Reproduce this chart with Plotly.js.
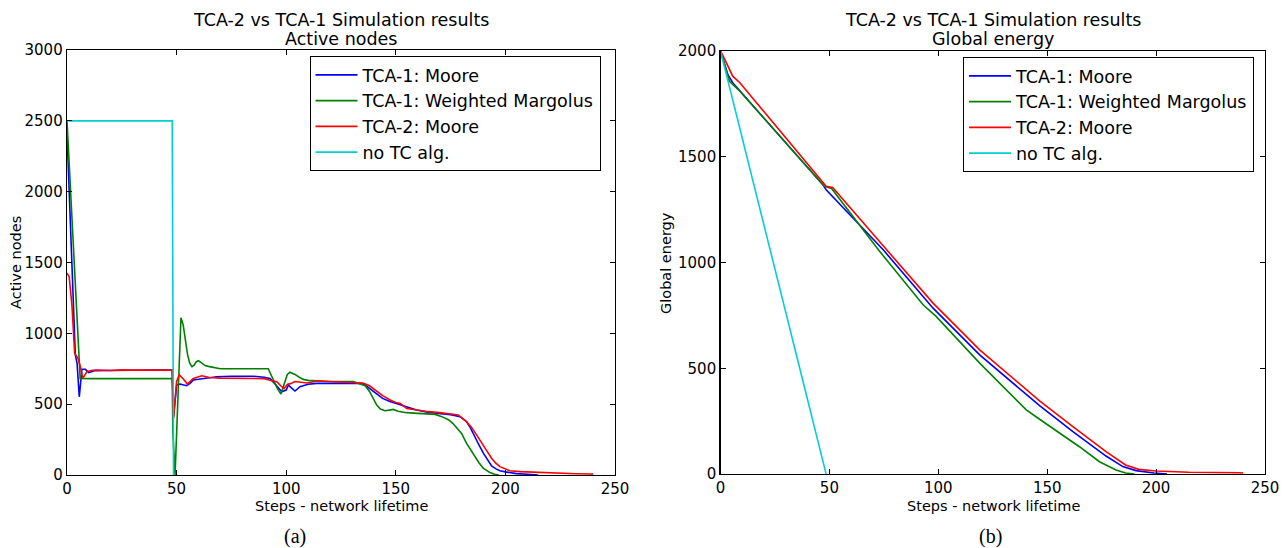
<!DOCTYPE html>
<html>
<head>
<meta charset="utf-8">
<script src="https://cdn.plot.ly/plotly-3.0.1.min.js"></script>
<style>html,body{margin:0;padding:0;background:#fff;}#chart{width:1287px;height:548px;}</style>
</head>
<body>
<div id="chart"></div>
<script>
// ---------- Data: (a) Active nodes ----------
const seriesNames = ["TCA-1: Moore", "TCA-1: Weighted Margolus", "TCA-2: Moore", "no TC alg."];
const xTicks = [0, 50, 100, 150, 200, 250];
const activeTicks = [0, 500, 1000, 1500, 2000, 2500, 3000];
const energyTicks = [0, 500, 1000, 1500, 2000];

const moore1StepsA = [0,1,2.3,3.8,4.6,5.6,6.8,8.4,9.9,12.9,20,30,40,48,48.6,50,50.8,52,54.5,56,57.6,60,64,68.3,75,80,85,90,92.6,95,98,100,101,102,104,106.3,110,114,120,130,133.7,136,138,141,144,147,150,155,159.5,165,170,175,179.3,182.3,184,186,188,190,192,193.7,195.5,197.5,200,202,205,210,215];
const moore1Active = [2414,1990,1425,847,788,552,746,746,723,737,738,742,741,741,410,630,642,640,630,645,670,676,684,694,697,698,697,690,682,640,588,600,635,620,593,623,640,647,647,647,647,635,612,580,541,520,506,480,459,442,434,426,412,376,335,270,210,153,100,64,45,30,22,16,10,5,0];

const margolusStepsA = [0,6,10,48,48.3,49.3,50.5,51.2,52,53,54,55,56,57,58,59,60,61,63,65,68.3,70,91.8,94,96,97.6,99,100.5,101.7,104,106,107.8,110,113.9,120,130.6,132,134,136,138,140,141.3,143,145,147,148.9,151,155,160,165,168,171,174,176,178,180,182.3,184,186,188,190,192,193,195,197];
const margolusActive = [2500,682,680,680,300,0,500,850,1110,1060,950,850,790,765,775,800,807,795,772,765,753,750,750,680,610,572,640,710,725,710,690,675,668,663,660,659,652,642,630,590,530,494,465,454,458,463,450,440,435,430,428,412,390,365,330,294,223,180,130,85,47,25,17,5,0];

const moore2StepsA = [0,1,2.3,3.5,5,6,7.2,8,9.1,11,13,20,25,30,40,48,48.6,50,51.2,53,54.9,56,57.6,61.5,65,70,80,90,92.6,95.7,97.5,99,100.6,102,104,107,109.5,114,120,130,135,138,141.3,144,147.4,150,152,155,158,161,165,170,174,178.5,182,184.6,187,189.2,191.5,193.7,195.5,197.5,200,202,206.7,215.8,225,232,238.6,240];
const moore2Active = [1425,1400,1188,859,824,770,682,700,730,738,741,738,742,740,740,740,400,660,706,680,642,660,682,700,688,684,682,680,669,659,630,610,640,645,660,655,650,664,660,657,650,630,588,560,529,512,505,470,462,454,447,440,432,424,380,336,280,223,170,118,85,59,40,30,24,17,12,9,7,6];

const noTCStepsA = [0, 48, 48.6];
const noTCActive = [2500, 2500, 0];

// ---------- Data: (b) Global energy ----------
const moore1StepsB = [0,3.4,5.6,47,48.5,74.7,97.6,119,143.4,146.5,161.8,164.8,177,184.7,190.8,199,205];
const moore1Energy = [2000,1888,1850,1368,1344,1060,784,563,350,323,200,177,85,35,16,5,0];

const margolusStepsB = [0,4.1,8.9,47.7,51,72.5,93,99,119,140.4,146.5,161.8,164.8,174,181.6,186,190];
const margolusEnergy = [2000,1857,1810,1360,1350,1060,800,745,524,303,259,153,129,58,19,5,0];

const moore2StepsB = [0,1.3,5.6,8.9,48.5,51.5,76.3,97.6,119,140.4,146.5,161.8,164.8,177,186,192,200,215,238,240];
const moore2Energy = [2000,1975,1881,1850,1360,1355,1060,808,587,398,346,224,200,106,43,22,14,8,6,5];

const noTCStepsB = [0, 21.7, 48.5];
const noTCEnergy = [2000, 1108, 0];

// ---------- Styling ----------
const colors = ["#0000ff", "#008000", "#ff0000", "#00cfcf"];
const FONT = "DejaVu Sans, Verdana, sans-serif";
const SERIF = "Liberation Serif, Times New Roman, serif";
const W = 1287, H = 548;
const px = v => v / W;
const py = v => 1 - v / H;

function tr(x, y, i, xa, ya, leg) {
  return {x: x, y: y, name: seriesNames[i], type: "scatter", mode: "lines",
    line: {color: colors[i], width: 1.6}, xaxis: xa, yaxis: ya, legend: leg, hoverinfo: "skip"};
}

const data = [
  tr(moore1StepsA, moore1Active, 0, "x", "y", "legend"),
  tr(margolusStepsA, margolusActive, 1, "x", "y", "legend"),
  tr(moore2StepsA, moore2Active, 2, "x", "y", "legend"),
  tr(noTCStepsA, noTCActive, 3, "x", "y", "legend"),
  tr(moore1StepsB, moore1Energy, 0, "x2", "y2", "legend2"),
  tr(margolusStepsB, margolusEnergy, 1, "x2", "y2", "legend2"),
  tr(moore2StepsB, moore2Energy, 2, "x2", "y2", "legend2"),
  tr(noTCStepsB, noTCEnergy, 3, "x2", "y2", "legend2")
];

const axBase = {
  showgrid: false, zeroline: false, showline: true, linecolor: "#000", linewidth: 1.3,
  mirror: "ticks", ticks: "inside", ticklen: 5, tickwidth: 1, tickcolor: "#000",
  tickfont: {family: FONT, size: 15, color: "#000"}, tickmode: "array", fixedrange: true
};

const legBase = {
  bgcolor: "#fff", bordercolor: "#000", borderwidth: 1, itemwidth: 42,
  font: {family: FONT, size: 17.5, color: "#000"},
  xanchor: "left", yanchor: "top", xref: "paper", yref: "paper"
};

function ann(text, x, y, size, extra) {
  return Object.assign({text: text, x: px(x), y: py(y), xref: "paper", yref: "paper",
    showarrow: false, xanchor: "center", yanchor: "middle",
    font: {family: FONT, size: size, color: "#000"}}, extra || {});
}

const layout = {
  width: W, height: H, autosize: false,
  margin: {l: 0, r: 0, t: 0, b: 0},
  paper_bgcolor: "#fff", plot_bgcolor: "#fff",
  showlegend: true,
  xaxis: Object.assign({}, axBase, {domain: [px(67), px(615)], range: [0, 250], tickvals: xTicks, anchor: "y"}),
  yaxis: Object.assign({}, axBase, {domain: [py(475), py(50)], range: [0, 3000], tickvals: activeTicks, anchor: "x"}),
  xaxis2: Object.assign({}, axBase, {domain: [px(720.5), px(1265)], range: [0, 250], tickvals: xTicks, anchor: "y2"}),
  yaxis2: Object.assign({}, axBase, {domain: [py(474), py(51)], range: [0, 2000], tickvals: energyTicks, anchor: "x2"}),
  legend: Object.assign({}, legBase, {x: px(309.5), y: py(56)}),
  legend2: Object.assign({}, legBase, {x: px(963), y: py(57)}),
  annotations: [
    ann("TCA-2 vs TCA-1 Simulation results", 341, 19.5, 17.5),
    ann("Active nodes", 341, 39, 17.5),
    ann("TCA-2 vs TCA-1 Simulation results", 993, 19.5, 17.5),
    ann("Global energy", 993, 39, 17.5),
    ann("Steps - network lifetime", 341, 506, 14.5),
    ann("Steps - network lifetime", 993, 506, 14.5),
    ann("Active nodes", 16, 263, 14.5, {textangle: -90}),
    ann("Global energy", 666, 263, 14.5, {textangle: -90}),
    ann("(a)", 295, 536, 20, {font: {family: SERIF, size: 20, color: "#000"}}),
    ann("(b)", 990, 536, 20, {font: {family: SERIF, size: 20, color: "#000"}})
  ]
};

Plotly.newPlot("chart", data, layout, {staticPlot: true, displayModeBar: false});
</script>
</body>
</html>
